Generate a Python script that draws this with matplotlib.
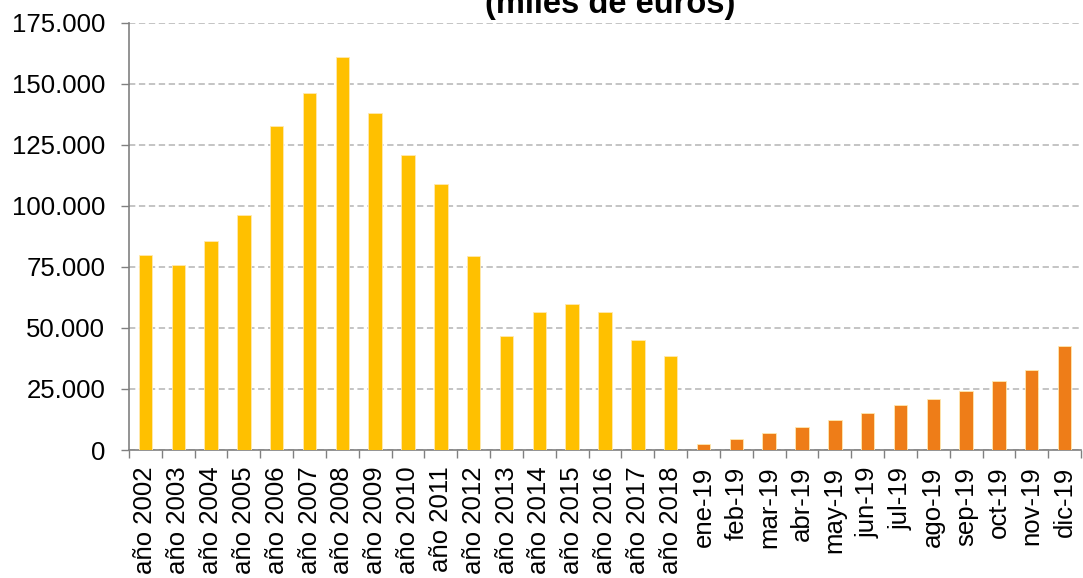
import matplotlib
matplotlib.use("Agg")
import matplotlib.pyplot as plt
import numpy as np
from matplotlib.ticker import FuncFormatter, FixedLocator

plt.rcParams['font.family'] = ['Liberation Sans', 'DejaVu Sans']

years = ["año 2002", "año 2003", "año 2004", "año 2005", "año 2006", "año 2007",
         "año 2008", "año 2009", "año 2010", "año 2011", "año 2012", "año 2013",
         "año 2014", "año 2015", "año 2016", "año 2017", "año 2018"]
year_values = [80000, 75600, 85700, 96200, 132700, 146200, 160900, 138000,
               120800, 108900, 79300, 46700, 56400, 59800, 56600, 45000, 38500]

months = ["ene-19", "feb-19", "mar-19", "abr-19", "may-19", "jun-19",
          "jul-19", "ago-19", "sep-19", "oct-19", "nov-19", "dic-19"]
month_values = [2600, 4500, 6800, 9400, 12200, 15000, 18300, 20700,
                24200, 28300, 32800, 42600]

yticks = [0, 25000, 50000, 75000, 100000, 125000, 150000, 175000]

fig = plt.figure(figsize=(10.83, 5.78), dpi=100)
ax = fig.add_axes([129/1083, 1 - 450/578, (1081 - 129)/1083, (450 - 22.7)/578])

labels = years + months
values = year_values + month_values
colors = ['#FFC000'] * len(years) + ['#EE7D18'] * len(months)
x = np.arange(len(labels))
ax.bar(x, values, width=0.41, color=colors, edgecolor='#FFE9B0', linewidth=0.6, zorder=3)

ax.set_xlim(-0.5, len(labels) - 0.5)
ax.set_ylim(0, 175000)
ax.set_yticks(yticks)
ax.yaxis.set_major_formatter(FuncFormatter(lambda v, p: f"{int(v):,}".replace(",", ".")))
ax.grid(axis='y', color='#BFBFBF', linestyle=(0, (3.5, 2)), linewidth=1.3, zorder=0)

ax.set_xticks(x)
ax.set_xticklabels(labels, rotation=90, fontsize=18.5)
ax.xaxis.set_minor_locator(FixedLocator(np.arange(-0.5, len(labels), 1.0)))
ax.tick_params(axis='x', which='major', length=0, pad=12)
ax.tick_params(axis='x', which='minor', length=6, width=1, color='#808080', direction='out')
ax.tick_params(axis='y', labelsize=18.5, length=6, width=1, color='#808080', pad=11)

for s in ['top', 'right']:
    ax.spines[s].set_visible(False)
for s in ['left', 'bottom']:
    ax.spines[s].set_color('#808080')
    ax.spines[s].set_linewidth(1.2)

fig.text(610/1083, 1 - 12.5/578, "(miles de euros)", ha='center', va='baseline',
         fontsize=23.5, fontweight='bold')

fig.savefig("out.png", dpi=100)
